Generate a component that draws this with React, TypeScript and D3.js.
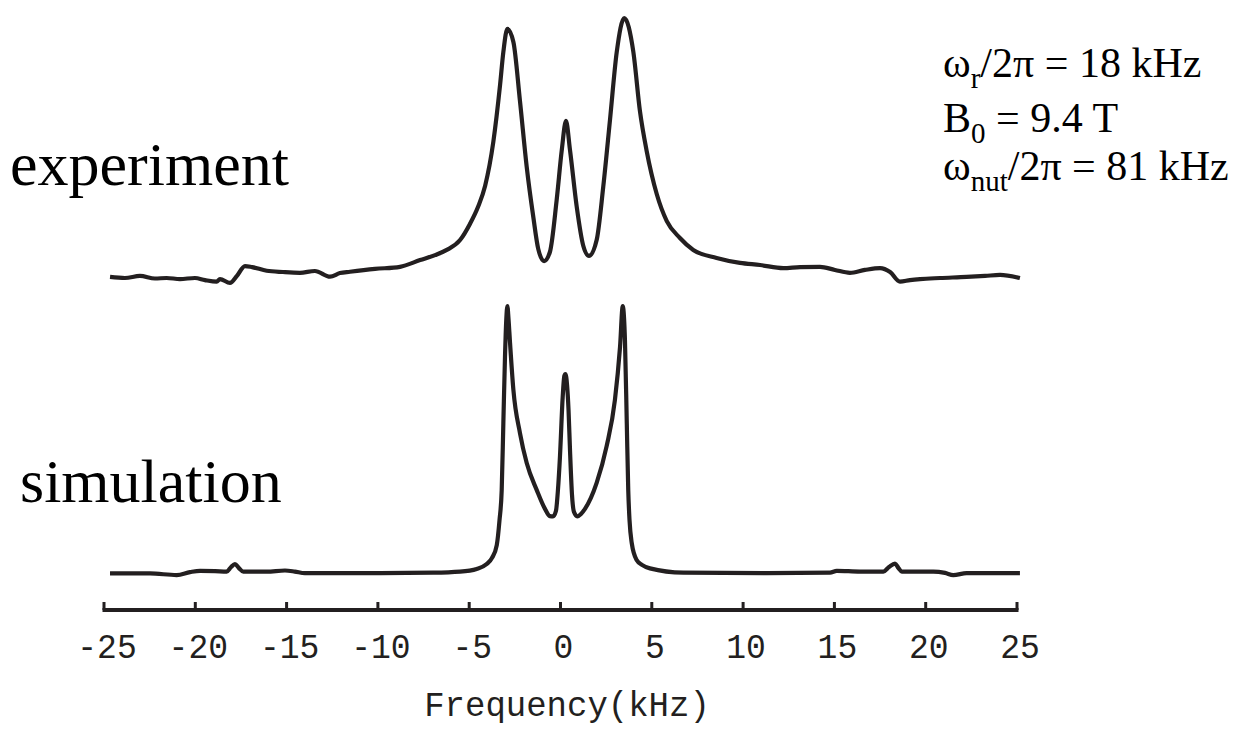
import { useMemo } from 'react'
import * as d3 from 'd3'

// experiment trace: frequency (kHz) and intensity (% of tallest peak)
const expFreq = [
  -24.67, -23.85, -23.03, -22.21, -21.57, -20.84, -20.02, -19.47, -18.83, -18.65,
  -18.10, -17.72, -17.28, -16.89, -16.09, -15.20, -14.27, -13.45, -12.62, -12.08,
  -11.53, -10.16, -8.79, -7.69, -6.87, -6.23, -5.50, -4.96, -4.52, -4.13,
  -3.68, -3.31, -3.13, -2.91, -2.58, -2.22, -1.85, -1.49, -1.22, -0.90,
  -0.58, -0.21, 0.07, 0.30, 0.52, 0.89, 1.25, 1.56, 1.98, 2.34,
  2.71, 3.08, 3.49, 3.99, 4.35, 4.72, 5.27, 5.82, 6.54, 7.27,
  8.55, 9.83, 10.93, 12.20, 13.12, 14.21, 15.03, 15.85, 16.67, 17.50,
  18.05, 18.59, 19.14, 19.69, 20.79, 22.24, 23.25, 24.07, 25.16,
]
const expInt = [
  0.4, 0, 0.8, -0.2, 0, -0.4, 0, -0.8, -1.4, -0.4,
  -1.9, 0.8, 4.6, 4.2, 2.8, 2.3, 2.0, 2.7, 0.5, 1.9,
  2.4, 3.5, 4.3, 6.9, 8.8, 10.8, 14.6, 20.8, 27.3, 35.4,
  52.3, 74.2, 86.9, 95.8, 90.8, 68.1, 42.7, 23.5, 11.2, 6.5,
  10.0, 30.0, 49.2, 60.4, 49.2, 27.3, 12.3, 8.5, 14.6, 35.0,
  60.8, 86.9, 100, 86.9, 64.2, 48.8, 32.3, 21.9, 15.4, 10.8,
  7.7, 5.8, 5.0, 3.8, 4.2, 4.3, 3.1, 2.0, 3.1, 3.8,
  2.3, -1.4, -0.8, -0.4, 0, 0.4, 0.8, 1.2, 0,
]

// simulation trace
const simFreq = [
  -24.67, -22.48, -21.02, -20.29, -19.74, -18.92, -18.28, -18.04, -17.83, -17.61,
  -17.37, -16.09, -15.09, -14.55, -14.00, -10.61, -6.97, -5.50, -4.59, -4.04,
  -3.75, -3.49, -3.34, -3.22, -3.13, -3.04, -2.97, -2.91, -2.85, -2.77,
  -2.58, -2.22, -1.85, -1.30, -0.85, -0.58, -0.41, -0.25, -0.14, -0.03,
  0.12, 0.21, 0.27, 0.36, 0.44, 0.52, 0.63, 0.74, 0.92, 1.12,
  1.34, 1.98, 2.53, 2.98, 3.26, 3.41, 3.48, 3.53, 3.63, 3.71,
  3.78, 3.90, 4.17, 4.46, 4.90, 6.73, 11.29, 14.76, 15.13, 16.40,
  17.68, 17.99, 18.32, 18.51, 18.69, 20.42, 21.06, 21.51, 22.24, 25.16,
]
const simInt = [
  0.2, 0.2, -0.4, 0.7, 1.2, 1.1, 0.9, 2.6, 3.7, 2.2,
  0.9, 0.9, 1.3, 0.9, 0.3, 0.3, 0.5, 0.9, 1.9, 3.7,
  6.0, 10.8, 20.1, 31.3, 56.3, 81.0, 94.8, 100, 95.5, 86.9,
  68.7, 52.6, 41.4, 31.3, 24.3, 21.6, 21.5, 23.5, 31.3, 43.7,
  66.0, 73.9, 74.6, 70.5, 61.2, 46.3, 29.5, 23.1, 21.5, 22.4,
  24.3, 34.0, 47.8, 64.9, 84.7, 100, 95.5, 87.3, 56.3, 31.3,
  20.1, 11.6, 5.2, 3.4, 2.1, 0.5, 0.3, 0.5, 1.2, 0.9,
  0.9, 2.6, 3.9, 2.2, 0.9, 0.9, 0.4, -0.4, 0.3, 0.3,
]

const tickValues = [-25, -20, -15, -10, -5, 0, 5, 10, 15, 20, 25]
const tickLabels = ['-25', '-20', '-15', '-10', '-5', '0', '5', '10', '15', '20', '25']

const INK = '#231f20'
const serif = '"Liberation Serif", "Times New Roman", serif'
const mono = '"Liberation Mono", "Courier New", monospace'

export default function App() {
  const width = 1245
  const height = 731

  const x = d3.scaleLinear().domain([-25, 25]).range([104, 1017])
  const yExp = d3.scaleLinear().domain([0, 100]).range([278, 18])
  const ySim = d3.scaleLinear().domain([0, 100]).range([574, 306])

  const expPath = useMemo(() => {
    const line = d3.line<number>()
      .x((_, i) => x(expFreq[i]))
      .y(d => yExp(d))
      .curve(d3.curveMonotoneX)
    return line(expInt)
  }, [])

  const simPath = useMemo(() => {
    const line = d3.line<number>()
      .x((_, i) => x(simFreq[i]))
      .y(d => ySim(d))
      .curve(d3.curveMonotoneX)
    return line(simInt)
  }, [])

  const axisY = 610

  return (
    <svg width={width} height={height} style={{ position: 'absolute', left: 0, top: 0, background: '#fff' }}>
      <path d={expPath} fill="none" stroke={INK} strokeWidth={4.2} strokeLinejoin="round" />
      <path d={simPath} fill="none" stroke={INK} strokeWidth={4.2} strokeLinejoin="round" />

      {/* axis */}
      <line x1={x(-25) - 1.5} x2={x(25) + 1.5} y1={axisY} y2={axisY} stroke={INK} strokeWidth={4} />
      {tickValues.map((t, i) => (
        <g key={t}>
          <line x1={x(t)} x2={x(t)} y1={axisY} y2={axisY - 8} stroke={INK} strokeWidth={3} />
          <text transform={`translate(${x(t) + 3},658) scale(1,1.08)`} textAnchor="middle"
            fontFamily={mono} fontSize={33} fill={INK}>{tickLabels[i]}</text>
        </g>
      ))}
      <text transform="translate(567,716) scale(1,1.05)" textAnchor="middle"
        fontFamily={mono} fontSize={34} fill={INK}>Frequency(kHz)</text>

      {/* trace labels */}
      <text x={10} y={185} fontFamily={serif} fontSize={62} fill="#000">experiment</text>
      <text x={20} y={502} fontFamily={serif} fontSize={62} fill="#000">simulation</text>

      {/* parameters */}
      <g fontFamily={serif} fontSize={42} fill="#000">
        <text x={943} y={77}>ω<tspan fontSize={29} dy={11}>r</tspan><tspan dy={-11}>/2π = 18 kHz</tspan></text>
        <text x={943} y={132}>B<tspan fontSize={29} dy={11}>0</tspan><tspan dy={-11}> = 9.4 T</tspan></text>
        <text x={943} y={180}>ω<tspan fontSize={29} dy={11}>nut</tspan><tspan dy={-11}>/2π = 81 kHz</tspan></text>
      </g>
    </svg>
  )
}
